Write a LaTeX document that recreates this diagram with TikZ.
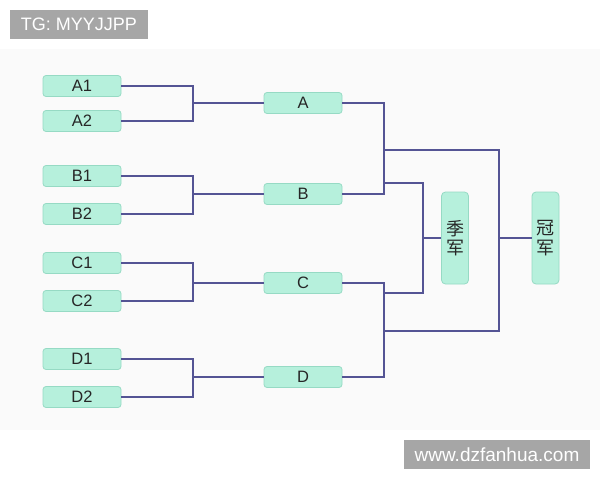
\documentclass[tikz,border=0pt]{standalone}
\usepackage{fontspec}
\setmainfont{Liberation Sans}
\newfontfamily\cjk{Noto Sans CJK SC}
\definecolor{mint}{RGB}{182,240,220}
\definecolor{mintedge}{RGB}{150,218,196}
\definecolor{wire}{RGB}{84,84,148}
\definecolor{tagbg}{RGB}{166,166,166}
\definecolor{panel}{RGB}{250,250,250}
\begin{document}
\begin{tikzpicture}[x=1pt,y=-1pt,
  team/.style={draw=mintedge,fill=mint,rounded corners=3pt,line width=0.8pt,
    minimum width=78pt,minimum height=21pt,inner sep=0pt,
    font=\fontsize{16.5}{17}\selectfont,text=black!85},
  prize/.style={draw=mintedge,fill=mint,rounded corners=4pt,line width=0.8pt,
    minimum width=27pt,minimum height=92pt,inner sep=0pt,align=center,
    font=\cjk\fontsize{18}{19.5}\selectfont,text=black!85},
  tag/.style={fill=tagbg,text=white,inner sep=0pt,font=\fontsize{18}{20}\selectfont},
  wirestyle/.style={draw=wire,line width=1.5pt}]
\useasboundingbox (0,0) rectangle (600,480);
\fill[white] (0,0) rectangle (600,480);
\fill[panel] (0,49) rectangle (600,430);
% tags
\node[tag,minimum width=138pt,minimum height=29pt] (tg) at (79,24.5) {TG: MYYJJPP};
\node[tag,minimum width=186pt,minimum height=29pt,font=\fontsize{19}{21}\selectfont] (wm) at (497,454.5) {www.dzfanhua.com};
% leaves
\node[team] (A1) at (82,86) {A1};
\node[team] (A2) at (82,121) {A2};
\node[team] (B1) at (82,176) {B1};
\node[team] (B2) at (82,214) {B2};
\node[team] (C1) at (82,263) {C1};
\node[team] (C2) at (82,301) {C2};
\node[team] (D1) at (82,359) {D1};
\node[team] (D2) at (82,397) {D2};
% group winners
\node[team] (A) at (303,103) {A};
\node[team] (B) at (303,194) {B};
\node[team] (C) at (303,283) {C};
\node[team] (D) at (303,377) {D};
% prizes
\node[prize] (third) at (455,238) {季\\军};
\node[prize] (champ) at (545.5,238) {冠\\军};
% junctions
\coordinate (jA) at (193,103);
\coordinate (jB) at (193,194);
\coordinate (jC) at (193,283);
\coordinate (jD) at (193,377);
\coordinate (sAB) at (384,150);
\coordinate (tAB) at (384,183);
\coordinate (tCD) at (384,293);
\coordinate (sCD) at (384,331);
\coordinate (tj) at (423,238);
\coordinate (cj) at (499,238);
% wires
\draw[wirestyle] (A1.east) -| (jA);
\draw[wirestyle] (A2.east) -| (jA);
\draw[wirestyle] (jA) -- (A.west);
\draw[wirestyle] (B1.east) -| (jB);
\draw[wirestyle] (B2.east) -| (jB);
\draw[wirestyle] (jB) -- (B.west);
\draw[wirestyle] (C1.east) -| (jC);
\draw[wirestyle] (C2.east) -| (jC);
\draw[wirestyle] (jC) -- (C.west);
\draw[wirestyle] (D1.east) -| (jD);
\draw[wirestyle] (D2.east) -| (jD);
\draw[wirestyle] (jD) -- (D.west);
\draw[wirestyle] (A.east) -| (sAB);
\draw[wirestyle] (B.east) -| (sAB);
\draw[wirestyle] (C.east) -| (sCD);
\draw[wirestyle] (D.east) -| (sCD);
\draw[wirestyle] (sAB) -| (cj);
\draw[wirestyle] (sCD) -| (cj);
\draw[wirestyle] (cj) -- (champ.west);
\draw[wirestyle] (tAB) -| (tj);
\draw[wirestyle] (tCD) -| (tj);
\draw[wirestyle] (tj) -- (third.west);
\end{tikzpicture}
\end{document}
